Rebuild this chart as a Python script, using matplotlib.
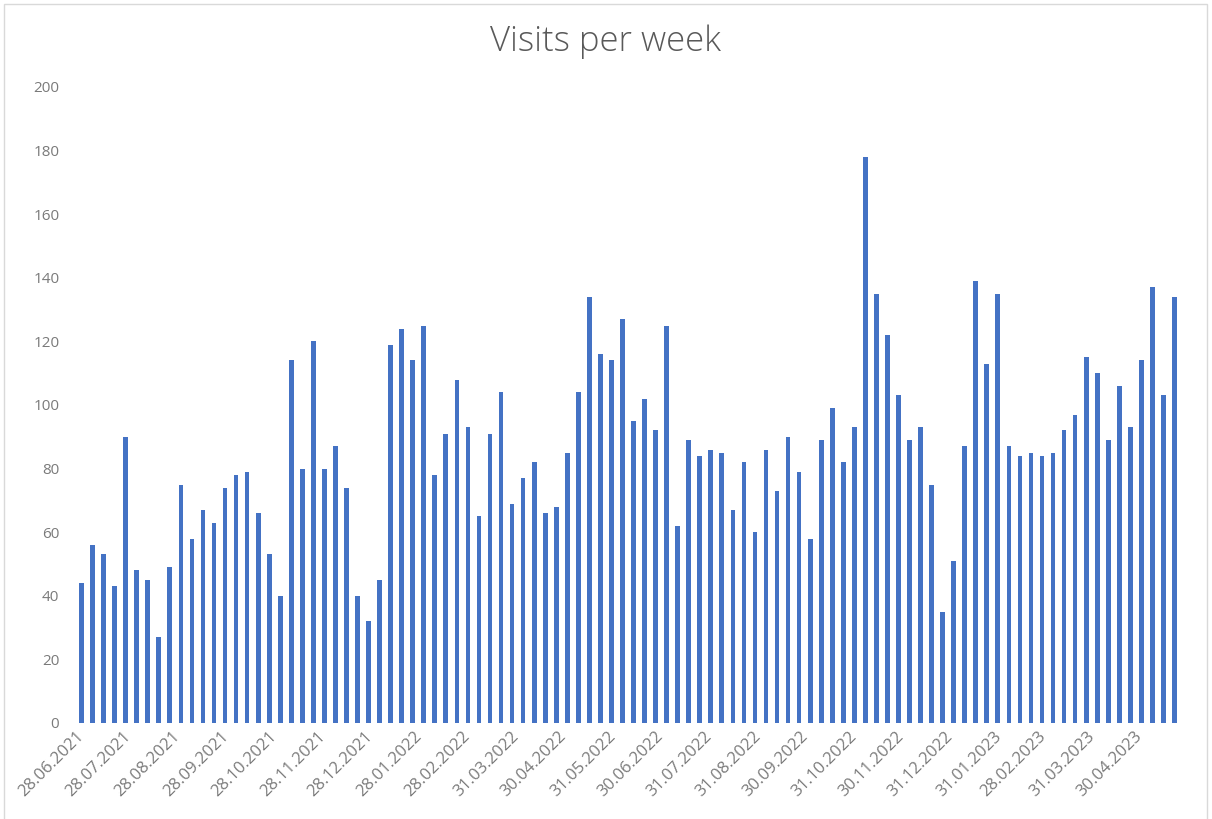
import matplotlib
matplotlib.use("Agg")
import matplotlib.pyplot as plt
import matplotlib.dates as mdates
import numpy as np
import pandas as pd

title = "Visits per week"
start_date = "2021-06-28"
visits = [44, 56, 53, 43, 90, 48, 45, 27, 49, 75,
          58, 67, 63, 74, 78, 79, 66, 53, 40, 114,
          80, 120, 80, 87, 74, 40, 32, 45, 119, 124,
          114, 125, 78, 91, 108, 93, 65, 91, 104, 69,
          77, 82, 66, 68, 85, 104, 134, 116, 114, 127,
          95, 102, 92, 125, 62, 89, 84, 86, 85, 67,
          82, 60, 86, 73, 90, 79, 58, 89, 99, 82,
          93, 178, 135, 122, 103, 89, 93, 75, 35, 51,
          87, 139, 113, 135, 87, 84, 85, 84, 85, 92,
          97, 115, 110, 89, 106, 93, 114, 137, 103, 134]
tick_dates = ["2021-06-28", "2021-07-28", "2021-08-28", "2021-09-28", "2021-10-28",
              "2021-11-28", "2021-12-28", "2022-01-28", "2022-02-28", "2022-03-31",
              "2022-04-30", "2022-05-31", "2022-06-30", "2022-07-31", "2022-08-31",
              "2022-09-30", "2022-10-31", "2022-11-30", "2022-12-31", "2023-01-31",
              "2023-02-28", "2023-03-31", "2023-04-30"]
y_ticks = [0, 20, 40, 60, 80, 100, 120, 140, 160, 180, 200]

dates = pd.date_range(start_date, periods=len(visits), freq="7D")
ticks = pd.to_datetime(tick_dates)

plt.rcParams['font.family'] = ['Open Sans', 'DejaVu Sans']

W, H = 1212, 819
fig = plt.figure(figsize=(W / 100, H / 100), dpi=100)
fig.patch.set_facecolor("white")

# chart border
fig.add_artist(plt.Rectangle((4 / W, -0.01), (1207 - 4) / W, 1 - 4 / H + 0.01,
                             transform=fig.transFigure, fill=False,
                             edgecolor="#d9d9d9", linewidth=1.0))

ax = fig.add_axes([76 / W, 1 - 723 / H, (1180 - 76) / W, (723 - 87) / H])
ax.bar(dates, visits, width=3.0, color="#4472C4", align="center", zorder=3)

ax.set_ylim(0, 200)
ax.set_yticks(y_ticks)
ax.set_xlim(dates[0] - pd.Timedelta(days=3.5), dates[-1] + pd.Timedelta(days=3.5))
ax.set_xticks(ticks)
ax.set_xticklabels([d.strftime("%d.%m.%Y") for d in ticks])

for s in ax.spines.values():
    s.set_visible(False)
ax.tick_params(axis="both", length=0, colors="#7a7a7a")
ax.tick_params(axis="y", pad=12, labelsize=11)
ax.tick_params(axis="x", pad=8, labelsize=12)
for lbl in ax.get_xticklabels():
    lbl.set_rotation(45)
    lbl.set_ha("right")
    lbl.set_va("center")
    lbl.set_rotation_mode("anchor")

fig.text(0.5, 1 - 42 / H, title, ha="center", va="center", fontsize=25,
         color="#595959", fontweight="light")

fig.savefig("out.png", dpi=100, facecolor="white")
